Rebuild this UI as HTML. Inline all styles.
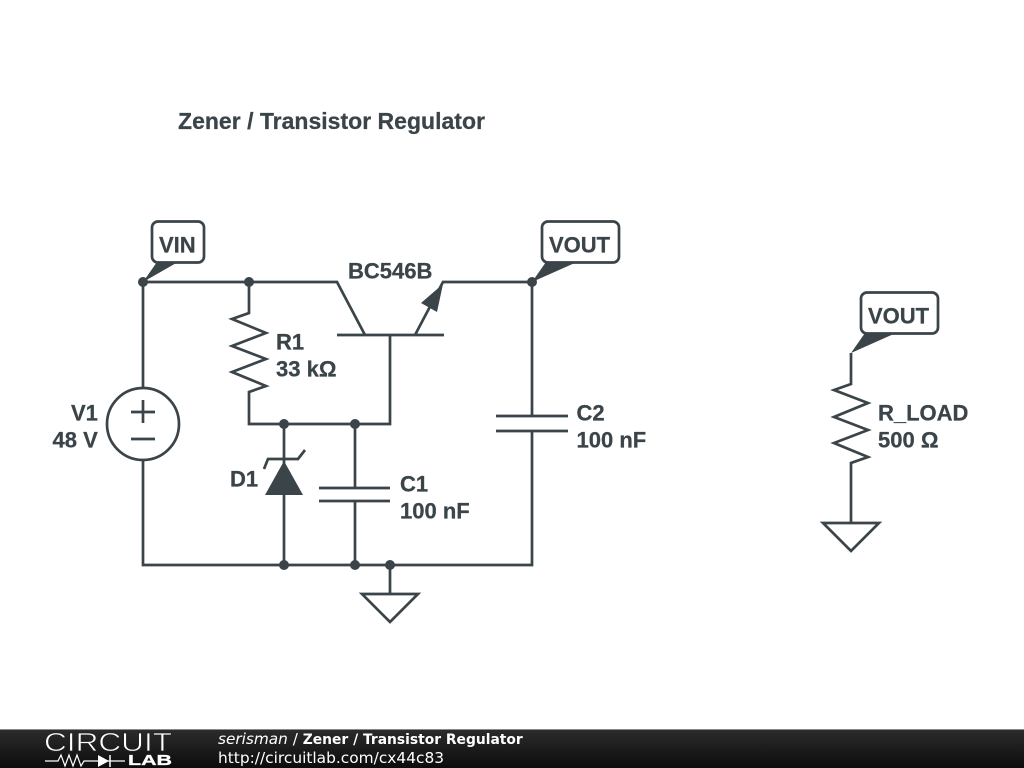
<!DOCTYPE html>
<html><head><meta charset="utf-8"><style>
html,body{margin:0;padding:0;background:#fff}
svg{display:block}
text{font-family:"Liberation Sans",sans-serif;font-weight:bold;fill:#3a4449;font-size:22px;stroke:#3a4449;stroke-width:.25}
.w{fill:none;stroke:#3a4449;stroke-width:2.7}
.d{fill:#3a4449}
text.f{font-family:"DejaVu Sans",sans-serif;font-size:14px;fill:#fff;font-weight:normal;stroke:none}
</style></head><body>
<svg width="1024" height="768" viewBox="0 0 1024 768" xmlns="http://www.w3.org/2000/svg">
<defs><linearGradient id="g" x1="0" y1="0" x2="0" y2="1"><stop offset="0" stop-color="#2c2c2c"/><stop offset="1" stop-color="#0c0c0c"/></linearGradient></defs>
<rect width="1024" height="768" fill="#fff"/>
<text x="178" y="129" style="font-size:23px" textLength="307">Zener / Transistor Regulator</text>

<!-- wires -->
<path class="w" d="M143 282H337L365 335M337 335H444M415 335L443 282H532V416M532 431V565H143V460M143 388V282"/>
<path class="w" d="M249 282V313L232 319L266 333L232 346L266 359L232 372L266 386L249 392V424H390V335"/>
<path class="w" d="M284 424V565M355 424V488M355 501V565M390 565V594"/>
<path class="w" d="M319 488H390M319 501H390M496 416H568M496 431H568"/>
<path class="w" d="M390 594H362L390 622L418 594Z" />
<!-- source -->
<circle class="w" cx="143" cy="424" r="36"/>
<path class="w" d="M131 412H155M143 400V423M131 439H155"/>
<!-- zener -->
<path class="d" d="M284 461L303 495H265Z"/>
<path class="w" d="M264 469L268 459H298L305 450"/>
<!-- emitter arrow -->
<path class="d" d="M443 284L437 312L421 303Z"/>
<!-- dots -->
<g class="d"><circle cx="143" cy="282" r="5"/><circle cx="249" cy="282" r="5"/><circle cx="532" cy="282" r="5"/><circle cx="284" cy="424" r="5"/><circle cx="355" cy="424" r="5"/><circle cx="284" cy="565" r="5"/><circle cx="355" cy="565" r="5"/><circle cx="390" cy="565" r="5"/></g>

<!-- flags -->
<path class="d" d="M143 282L157 262H178Z"/>
<rect x="152" y="221.500" width="52" height="41" rx="6" fill="#fff" stroke="#3a4449" stroke-width="2.7"/>
<text x="159" y="252.500">VIN</text>
<path class="d" d="M532 282L546 262H577Z"/>
<rect x="542" y="221.500" width="77" height="41" rx="6" fill="#fff" stroke="#3a4449" stroke-width="2.7"/>
<text x="549" y="252.500">VOUT</text>
<path class="d" d="M851 353L865 333H896Z"/>
<rect x="861" y="292.500" width="77" height="41" rx="6" fill="#fff" stroke="#3a4449" stroke-width="2.7"/>
<text x="868" y="323.500">VOUT</text>

<!-- R_LOAD -->
<path class="w" d="M851 353V384L834 390L868 403L834 417L868 430L834 443L868 457L851 463V523"/>
<path class="w" d="M823 523H879L851 551Z"/>

<!-- labels -->
<text x="348" y="278.500">BC546B</text>
<text x="276" y="349.500">R1</text>
<text x="276" y="376.500">33 kΩ</text>
<text x="71" y="420.500">V1</text>
<text x="52.500" y="447.500">48 V</text>
<text x="230" y="486.500">D1</text>
<text x="400" y="491.500">C1</text>
<text x="400" y="518.500">100 nF</text>
<text x="576.500" y="420.500">C2</text>
<text x="576.500" y="447.500">100 nF</text>
<text x="878" y="420.500">R_LOAD</text>
<text x="878" y="447.500">500 Ω</text>

<!-- footer -->
<rect y="729" width="1024" height="39" fill="url(#g)"/>
<rect y="729" width="1024" height="1" fill="#8a8a8a"/>
<text x="44" y="751" textLength="128" lengthAdjust="spacingAndGlyphs" style="font-size:26px;font-weight:normal;fill:#fff;stroke:#222;stroke-width:.7">CIRCUIT</text>
<path d="M45 761H58L61 755L65 766L69 755L73 766L77 755L81 766L84 761H99M125 761H99" fill="none" stroke="#fff" stroke-width="1.200"/>
<path d="M98 755L109 761L98 767Z" fill="#fff"/><path d="M110 755V767" stroke="#fff" stroke-width="1.500"/>
<text x="128" y="765" textLength="44" lengthAdjust="spacingAndGlyphs" style="font-size:14.500px;fill:#fff;stroke:#fff;stroke-width:.3">LAB</text>
<text class="f" x="218" y="744"><tspan font-style="italic" style="font-size:15.300px">serisman</tspan><tspan style="font-size:15.300px"> / </tspan><tspan font-weight="bold" style="font-size:13.850px">Zener / Transistor Regulator</tspan></text>
<text class="f" x="218" y="763" style="font-size:15.400px">http://circuitlab.com/cx44c83</text>
</svg>
</body></html>
